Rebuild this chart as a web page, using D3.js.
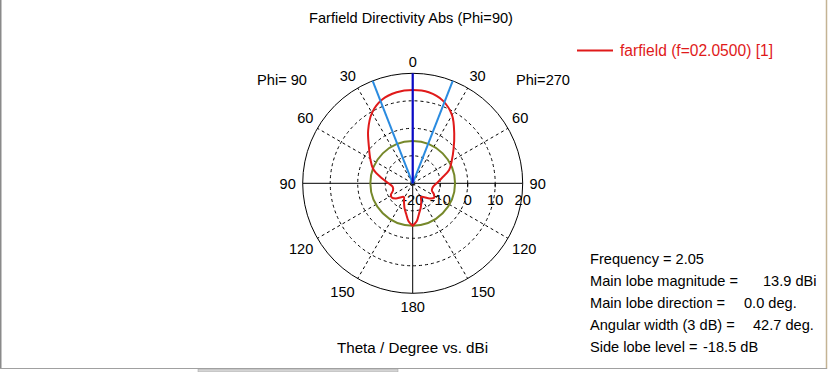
<!DOCTYPE html>
<html><head><meta charset="utf-8">
<script src="https://cdn.jsdelivr.net/npm/d3@7"></script>
<style>body{margin:0;background:#fff;} svg{display:block;} text{font-family:"Liberation Sans",Arial,sans-serif;}</style>
</head><body>
<svg id="c" width="829" height="372"></svg>
<script>
// ---- data ----
const title = "Farfield Directivity Abs (Phi=90)";
const xLabel = "Theta / Degree vs. dBi";
const legendLabel = "farfield (f=02.0500) [1]";
const angleTicks = [0, 30, 60, 90, 120, 150, 180];
const radialTicks = [-20, -10, 0, 10, 20];
// Phi = 90 half (left side), theta in degrees, directivity in dBi
const thetaPhi90 = [0, 10, 20, 30, 40, 50, 60, 70, 80, 90, 100, 110, 118, 124, 132, 140, 147, 155, 162, 168, 174, 180];
const dbPhi90    = [13.9, 13.6, 12.4, 9.6, 5.2, 0.8, -2.2, -4.7, -8.4, -11.2, -12.6, -12.4, -11.0, -10.8, -11.8, -13.4, -14.1, -12.5, -10.4, -8.6, -6.0, -4.6];
// Phi = 270 half (right side)
const thetaPhi270 = [0, 10, 20, 30, 40, 50, 60, 70, 80, 90, 100, 110, 118, 124, 132, 140, 148, 155, 162, 168, 174, 180];
const dbPhi270    = [13.9, 13.6, 12.0, 8.6, 3.5, -0.6, -3.6, -5.9, -9.3, -11.3, -12.5, -12.6, -11.2, -10.6, -11.8, -13.4, -14.2, -12.6, -10.6, -8.8, -6.1, -4.6];
const mainLobeMag = 13.9, mainLobeDir = 0.0, angularWidth = 42.7, sideLobeLevel = -18.5, frequency = 2.05;
const infoLabels = ["Frequency = " + frequency.toFixed(2), "Main lobe magnitude =", "Main lobe direction =", "Angular width (3 dB) =", "Side lobe level ="];
const infoValues = ["", mainLobeMag.toFixed(1) + " dBi", mainLobeDir.toFixed(1) + " deg.", angularWidth.toFixed(1) + " deg.", sideLobeLevel.toFixed(1) + " dB"];

// ---- layout ----
const FS = 14.6;
const svg = d3.select("#c");
const cx = 412.7, cy = 183.3, R = 110;
const rScale = d3.scaleLinear().domain([-20, 20]).range([0, R]);
const g = svg.append("g").attr("transform", `translate(${cx},${cy})`);
const RED = "#e01a1a";
const pt = (thDeg, r, side) => { const a = thDeg * Math.PI / 180; return [side * r * Math.sin(a), -r * Math.cos(a)]; };

// frame
svg.append("line").attr("x1", 0.75).attr("x2", 0.75).attr("y1", 0).attr("y2", 369).attr("stroke", "#8a8a8a").attr("stroke-width", 1.5);
svg.append("line").attr("x1", 826.5).attr("x2", 826.5).attr("y1", 0).attr("y2", 369).attr("stroke", "#c4b394").attr("stroke-width", 1.5);
svg.append("line").attr("x1", 0).attr("x2", 827).attr("y1", 368.5).attr("y2", 368.5).attr("stroke", "#a0a0a0").attr("stroke-width", 1);
svg.append("rect").attr("x", 198).attr("y", 369).attr("width", 200).attr("height", 3).attr("fill", "#d4d4d4").attr("stroke", "#a0a0a0").attr("stroke-width", 0.5);

// grid circles
radialTicks.filter(d => d > -20 && d < 20).forEach(d => {
  g.append("circle").attr("r", rScale(d)).attr("fill", "none").attr("stroke", "#000").attr("stroke-width", 1).attr("stroke-dasharray", "3,3");
});
[30, 60, 120, 150].forEach(t => [-1, 1].forEach(s => {
  const p = pt(t, R, s);
  g.append("line").attr("x1", 0).attr("y1", 0).attr("x2", p[0]).attr("y2", p[1]).attr("stroke", "#000").attr("stroke-width", 1).attr("stroke-dasharray", "3,3");
}));
g.append("circle").attr("r", R).attr("fill", "none").attr("stroke", "#000").attr("stroke-width", 1);
g.append("line").attr("x1", -R).attr("x2", R).attr("y1", 0).attr("y2", 0).attr("stroke", "#000");
g.append("line").attr("x1", 0).attr("x2", 0).attr("y1", -R).attr("y2", R).attr("stroke", "#000");
radialTicks.filter(d => d > -20 && d < 20).forEach(d => {
  g.append("line").attr("x1", rScale(d)).attr("x2", rScale(d)).attr("y1", 0).attr("y2", 4).attr("stroke", "#000");
});

// radial tick labels
radialTicks.forEach(d => {
  g.append("text").attr("x", rScale(d)).attr("y", 22).attr("text-anchor", "middle").attr("font-size", FS).text(d);
});

// side lobe level circle
g.append("circle").attr("r", rScale(mainLobeMag + sideLobeLevel)).attr("fill", "none").attr("stroke", "#76882a").attr("stroke-width", 2);

// pattern curve
const ptsLeft = thetaPhi90.map((t, i) => pt(t, rScale(dbPhi90[i]), -1));
const ptsRight = thetaPhi270.map((t, i) => pt(t, rScale(dbPhi270[i]), 1));
const path = ptsRight.concat(ptsLeft.slice().reverse());
const line = d3.line().curve(d3.curveCatmullRomClosed.alpha(0.5));
g.append("path").attr("d", line(path.slice(0, -1))).attr("fill", "none").attr("stroke", RED).attr("stroke-width", 2);

// beam width lines
[-1, 1].forEach(s => {
  const p = pt(mainLobeDir + angularWidth / 2, R, s);
  g.append("line").attr("x1", 0).attr("y1", 0).attr("x2", p[0]).attr("y2", p[1]).attr("stroke", "#2a8be0").attr("stroke-width", 2);
});
{ const p = pt(mainLobeDir, R, 1);
  g.append("line").attr("x1", 0).attr("y1", 0).attr("x2", p[0]).attr("y2", p[1]).attr("stroke", "#0a0ac8").attr("stroke-width", 2.2); }

// angle labels (position: [angle, radius] per tick)
const labPos = {0: [0, 122], 30: [31, 126], 60: [58.5, 126], 90: [90, 125], 120: [120.5, 129.5], 150: [147, 129], 180: [180, 123.4]};
angleTicks.forEach(t => {
  const sides = (t === 0 || t === 180) ? [1] : [-1, 1];
  sides.forEach(s => {
    const p = pt(labPos[t][0], labPos[t][1], s);
    g.append("text").attr("x", p[0]).attr("y", p[1] + 5.3).attr("text-anchor", "middle").attr("font-size", FS).text(t);
  });
});

// titles
svg.append("text").attr("x", 411).attr("y", 23).attr("text-anchor", "middle").attr("font-size", FS).text(title);
svg.append("text").attr("x", 282).attr("y", 84.5).attr("text-anchor", "middle").attr("font-size", FS).text("Phi= 90");
svg.append("text").attr("x", 543).attr("y", 84.5).attr("text-anchor", "middle").attr("font-size", FS).text("Phi=270");
svg.append("text").attr("x", 412.5).attr("y", 353).attr("text-anchor", "middle").attr("font-size", 15.2).text(xLabel);

// legend
svg.append("line").attr("x1", 577).attr("x2", 613).attr("y1", 50.5).attr("y2", 50.5).attr("stroke", RED).attr("stroke-width", 2);
svg.append("text").attr("x", 620).attr("y", 56).attr("font-size", 15.6).attr("fill", RED).text(legendLabel);

// info block
const valueX = [0, 763, 744, 753, 703];
infoLabels.forEach((s, i) => {
  svg.append("text").attr("x", 590).attr("y", 264 + i * 22).attr("font-size", FS).text(s);
  if (infoValues[i]) svg.append("text").attr("x", valueX[i]).attr("y", 264 + i * 22).attr("font-size", FS).text(infoValues[i]);
});
</script>
</body></html>
